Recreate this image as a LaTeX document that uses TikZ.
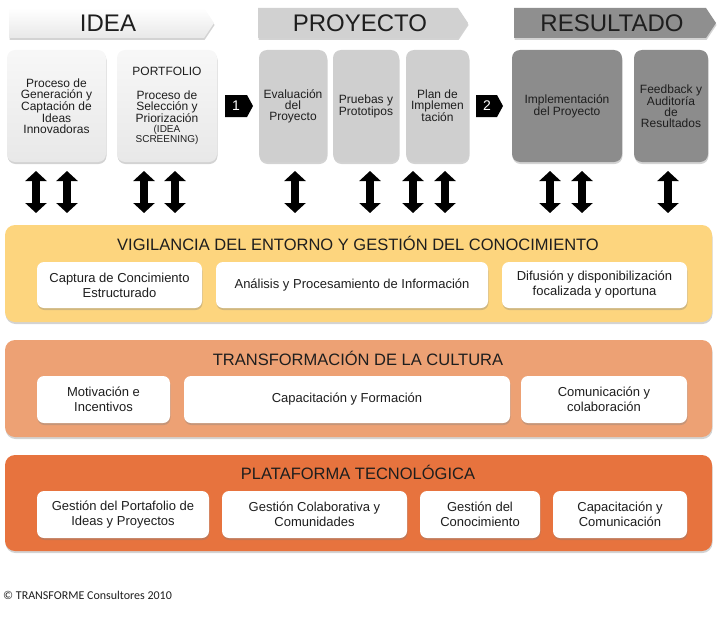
\documentclass[tikz,border=0pt]{standalone}
\usepackage{fontspec}
\setmainfont{Liberation Sans}
\newfontfamily\cfont{Carlito}
\usetikzlibrary{shadows,arrows.meta}
\definecolor{yel}{HTML}{FDD57E}
\definecolor{sal}{HTML}{EDA174}
\definecolor{ora}{HTML}{E7733E}
\definecolor{txt}{HTML}{1E1E1E}
\begin{document}
\begin{tikzpicture}[x=1pt,y=-1pt,
  every node/.style={text=txt},
  shad/.style={drop shadow={opacity=0.35,shadow xshift=0.5pt,shadow yshift=-2pt}},
  bannerpath/.style={shad},
  bannertext/.style={font=\fontsize{24}{24}\selectfont},
  topbox/.style={rounded corners=8pt, align=center, inner sep=2pt, shad,
                 font=\fontsize{12}{11}\selectfont},
  badge/.style={fill=black},
  badgetext/.style={text=white, font=\fontsize{14}{14}\selectfont},
  panel/.style={rounded corners=10pt, shad},
  ptitle/.style={font=\fontsize{16.5}{16.5}\selectfont},
  inbox/.style={fill=white, rounded corners=7pt, align=center, shad,
                font=\fontsize{13}{15}\selectfont},
  dblarr/.style={line width=8pt, draw=black,
                 {Triangle[width=21pt,length=10pt]}-{Triangle[width=21pt,length=10pt]}}
]
\useasboundingbox (0,0) rectangle (719,626);

% ---- banners
\path[bannerpath, top color=white, bottom color=black!9] (9,8) -- (204,8) -- (214,23) -- (204,38) -- (9,38) -- cycle;
\node[bannertext] (idea) at (108,23.5) {IDEA};
\path[bannerpath, fill=black!18] (258,8) -- (458,8) -- (468,23) -- (458,38) -- (258,38) -- cycle;
\node[bannertext] (proy) at (360,23.5) {PROYECTO};
\path[bannerpath, fill=black!44] (514,8) -- (706,8) -- (716,23) -- (706,38) -- (514,38) -- cycle;
\node[bannertext] (res) at (612,23.5) {RESULTADO};

% ---- top boxes
\node[topbox, top color=black!3, bottom color=black!9, minimum width=99pt, minimum height=112pt] (g1) at (56.5,106)
  {Proceso de\\Generación y\\Captación de\\Ideas\\Innovadoras};
\node[topbox, top color=black!3, bottom color=black!9, minimum width=100pt, minimum height=112pt] (g2) at (167,106)
  {PORTFOLIO\\[13pt]Proceso de\\Selección y\\Priorización\\[-1pt]{\fontsize{10}{10}\selectfont (IDEA}\\[-1pt]{\fontsize{10}{10}\selectfont SCREENING)}};
\node[topbox, fill=black!19, minimum width=68pt, minimum height=112pt] (p1) at (293,106)
  {Evaluación\\del\\Proyecto};
\node[topbox, fill=black!19, minimum width=66pt, minimum height=112pt] (p2) at (366,106)
  {Pruebas y\\Prototipos};
\node[topbox, fill=black!19, minimum width=63pt, minimum height=112pt] (p3) at (437.5,106)
  {Plan de\\Implemen\\tación};
\node[topbox, fill=black!45, minimum width=110pt, minimum height=112pt] (r1) at (567,106)
  {Implementación\\del Proyecto};
\node[topbox, fill=black!45, minimum width=74pt, minimum height=112pt] (r2) at (671,106)
  {Feedback y\\Auditoría\\de\\Resultados};

% ---- badges
\path[badge] (225,95) -- (247,95) -- (253,106) -- (247,117) -- (225,117) -- cycle;
\node[badgetext] (n1) at (236,106) {1};
\path[badge] (476,95) -- (497,95) -- (503,106) -- (497,117) -- (476,117) -- cycle;
\node[badgetext] (n2) at (487,106) {2};

% ---- double arrows
\foreach \x [count=\i] in {36,67,144,175,295,370,413,445,550,582,668} {
  \coordinate (up\i) at (\x,171);
  \coordinate (dn\i) at (\x,213);
  \draw[dblarr] (up\i) -- (dn\i);
}

% ---- panel 1
\node[panel, fill=yel, minimum width=707pt, minimum height=97pt] (vig) at (358.5,273.5) {};
\node[ptitle] (vigT) at (358,243) {VIGILANCIA DEL ENTORNO Y GESTIÓN DEL CONOCIMIENTO};
\node[inbox, minimum width=165pt, minimum height=46pt] (v1) at (119.5,285) {Captura de Concimiento\\Estructurado};
\node[inbox, minimum width=272pt, minimum height=46pt] (v2) at (352,285) {Análisis y Procesamiento de Información};
\node[inbox, minimum width=185pt, minimum height=46pt] (v3) at (594.5,285) {Difusión y disponibilización\\focalizada y oportuna};

% ---- panel 2
\node[panel, fill=sal, minimum width=707pt, minimum height=97pt] (cul) at (358.5,388.5) {};
\node[ptitle] (culT) at (358,358) {TRANSFORMACIÓN DE LA CULTURA};
\node[inbox, minimum width=133pt, minimum height=47pt] (c1) at (103.5,399.5) {Motivación e\\Incentivos};
\node[inbox, minimum width=326pt, minimum height=47pt] (c2) at (347,399.5) {Capacitación y Formación};
\node[inbox, minimum width=166pt, minimum height=47pt] (c3) at (604,399.5) {Comunicación y\\colaboración};

% ---- panel 3
\node[panel, fill=ora, minimum width=707pt, minimum height=96pt] (pla) at (358.5,503) {};
\node[ptitle] (plaT) at (358,472) {PLATAFORMA TECNOLÓGICA};
\node[inbox, minimum width=172pt, minimum height=47pt] (t1) at (123,514.5) {Gestión del Portafolio de\\Ideas y Proyectos};
\node[inbox, minimum width=185pt, minimum height=47pt] (t2) at (314.5,514.5) {Gestión Colaborativa y\\Comunidades};
\node[inbox, minimum width=120pt, minimum height=47pt] (t3) at (480,514.5) {Gestión del\\Conocimiento};
\node[inbox, minimum width=134pt, minimum height=47pt] (t4) at (620,514.5) {Capacitación y\\Comunicación};

% ---- copyright
\node[anchor=west, inner sep=0pt, font=\cfont\fontsize{12}{12}\selectfont] (copy) at (3,595) {© TRANSFORME Consultores 2010};
\end{tikzpicture}
\end{document}
